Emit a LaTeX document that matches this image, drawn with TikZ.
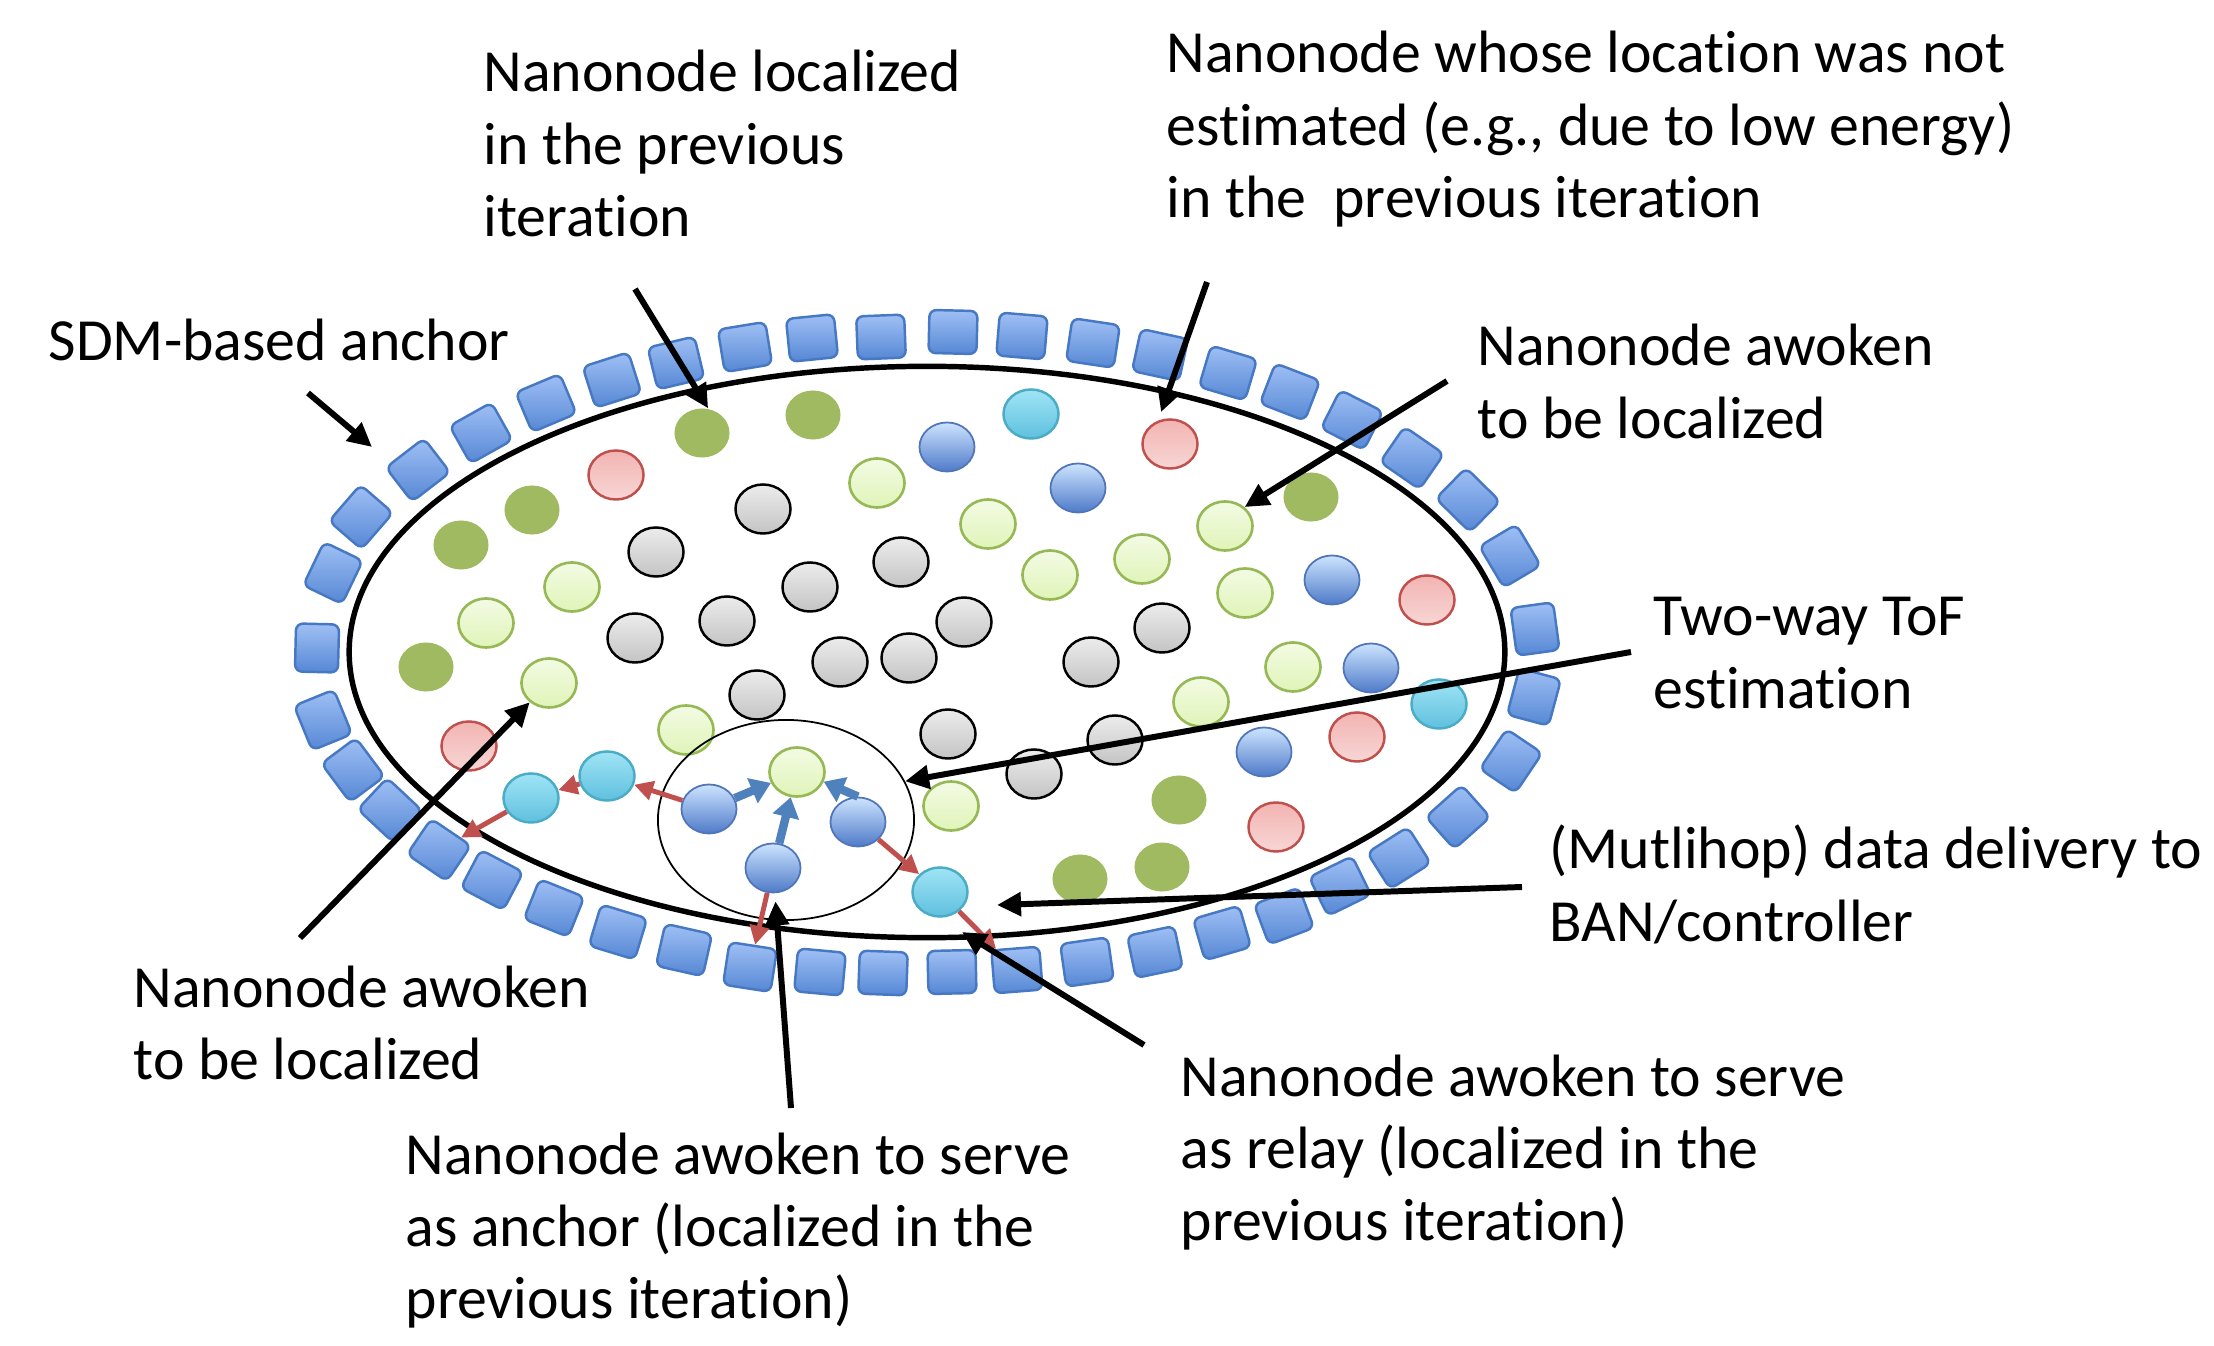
\documentclass[tikz,border=0pt]{standalone}
\usepackage{fontspec}
\setmainfont{Carlito}[Ligatures=NoCommon]
\usetikzlibrary{shapes.geometric,arrows.meta}
\definecolor{dgc}{RGB}{160,186,98}
\definecolor{lgt}{RGB}{243,251,228}
\definecolor{lgbot}{RGB}{224,244,184}
\definecolor{lgb}{RGB}{150,185,85}
\definecolor{pkt}{RGB}{242,180,178}
\definecolor{pkbot}{RGB}{247,214,213}
\definecolor{pkb}{RGB}{192,80,77}
\definecolor{gyt}{RGB}{236,236,236}
\definecolor{gybot}{RGB}{196,196,196}
\definecolor{cyt}{RGB}{160,228,246}
\definecolor{cybot}{RGB}{95,192,222}
\definecolor{cyb}{RGB}{75,172,198}
\definecolor{blt}{RGB}{205,228,255}
\definecolor{blm}{RGB}{128,172,240}
\definecolor{blbot}{RGB}{78,122,200}
\definecolor{blb}{RGB}{80,118,185}
\definecolor{sqt}{RGB}{160,192,245}
\definecolor{sqbot}{RGB}{85,135,212}
\definecolor{sqb}{RGB}{70,120,195}
\definecolor{arrblue}{RGB}{79,129,189}
\definecolor{arrred}{RGB}{192,80,77}
\begin{document}
\begin{tikzpicture}[x=0.01cm,y=-0.01cm,
  nn/.style={ellipse, minimum width=0.55cm, minimum height=0.49cm, inner sep=0pt},
  dgreen/.style={nn, fill=dgc},
  lgreen/.style={nn, draw=lgb, line width=0.75pt, top color=lgt, bottom color=lgbot},
  pinknode/.style={nn, draw=pkb, line width=0.7pt, top color=pkt, bottom color=pkbot},
  greynode/.style={nn, draw=black, line width=0.7pt, top color=gyt, bottom color=gybot},
  cyannode/.style={nn, draw=cyb, line width=0.7pt, top color=cyt, bottom color=cybot},
  bluesph/.style={nn, draw=blb, line width=0.5pt, top color=blt, middle color=blm, bottom color=blbot},
  anchorsq/.style={rectangle, rounded corners=0.07cm, minimum width=0.48cm, minimum height=0.43cm, inner sep=0pt, draw=sqb, line width=0.7pt, top color=sqt, bottom color=sqbot},
  blkarr/.style={line width=1.7pt, -{Triangle[length=0.24cm,width=0.23cm]}},
  bluearr/.style={draw=arrblue, line width=2.4pt, -{Triangle[length=0.2cm,width=0.26cm]}},
  redarr/.style={draw=arrred, line width=1.4pt, -{Triangle[length=0.19cm,width=0.19cm]}},
  lbl/.style={anchor=base west, inner sep=0pt, font=\fontsize{17}{20.5}\selectfont}
]
\fill[white] (0,0) rectangle (2214,1346);
\useasboundingbox (0,0) rectangle (2214,1346);

% anchor squares
\foreach \x/\y [count=\i] in {317/648, 333/573, 361/517, 418/470, 481/433, 546/403, 612/380, 676/363, 745/347, 812/338, 881/337, 953/332, 1022/336, 1093/343, 1160/355, 1228/373, 1290/392, 1352/420, 1412/458, 1468/500, 1510/556, 1535/629, 1534/697, 1511/761, 1458/817, 1399/858, 1340/886, 1284/916, 1222/933, 1155/952, 1087/962, 1017/970, 952/972, 883/973, 820/972, 750/967, 684/950, 618/932, 554/908, 492/880, 439/850, 390/810, 353/770, 323/720}{
  \pgfmathsetmacro\nang{atan2(-(\y-652)/10.24,(\x-926)/37.09)}
  \pgfmathsetmacro\rot{\nang<0 ? \nang+90 : \nang-90}
  \node[anchorsq, rotate=\rot] (s\i) at (\x,\y) {};
}

% region
\node[ellipse, draw, line width=1.55pt, minimum width=11.55cm, minimum height=5.71cm, inner sep=0pt] (region) at (927,652) {};

% nanonodes
\foreach \n/\x/\y in {dg1/702/433, dg2/813/415, dg3/532/510, dg4/461/545, dg5/426/667, dg6/1311/497, dg7/1179/800, dg8/1162/867, dg9/1080/879}
  \node[dgreen] (\n) at (\x,\y) {};
\foreach \n/\x/\y in {pk1/616/475, pk2/1170/444, pk3/1427/600, pk4/469/746, pk5/1357/737, pk6/1276/827}
  \node[pinknode] (\n) at (\x,\y) {};
\foreach \n/\x/\y in {gy1/763/509, gy2/656/552, gy3/810/587, gy4/635/638, gy5/727/621, gy6/757/695, gy7/901/562, gy8/964/622, gy9/840/662, gy10/909/658, gy11/1091/662, gy12/1162/628, gy13/948/734, gy14/1115/740, gy15/1034/774}
  \node[greynode] (\n) at (\x,\y) {};
\foreach \n/\x/\y in {lg1/572/587, lg2/486/623, lg3/549/683, lg4/686/730, lg5/877/483, lg6/988/524, lg7/1225/526, lg8/1050/575, lg9/1142/559, lg10/1245/593, lg11/1293/667, lg12/1201/702, lg13/951/806, lgT/797/772}
  \node[lgreen] (\n) at (\x,\y) {};
\foreach \n/\x/\y in {bl1/947/447, bl2/1078/488, bl3/1332/580, bl4/1371/668, bl5/1264/752, blL/709/809, blB/773/868, blR/858/822}
  \node[bluesph] (\n) at (\x,\y) {};
\foreach \n/\x/\y in {cy1/1031/414, cy2/1439/704, cyA/607/776, cyB/531/798, cyC/940/892}
  \node[cyannode] (\n) at (\x,\y) {};

% two-way ToF neighbourhood
\node[ellipse, draw, line width=0.5pt, minimum width=2.56cm, minimum height=2.0cm, inner sep=0pt] (tof) at (786,820) {};

% ToF arrows
\draw[bluearr] (blL) -- (lgT);
\draw[bluearr] (blB) -- (lgT);
\draw[bluearr] (blR.north) -- (lgT.-20);
% relay arrows
\draw[redarr] (blL) -- (cyA);
\draw[redarr] (cyA) -- (cyB);
\draw[redarr] (cyB) -- (s41);
\draw[redarr] (blB) -- (s36);
\draw[redarr] (blR) -- (cyC);
\draw[redarr] (cyC) -- (s32);

% labels
\node[lbl] (tloc) at (483,92) {\begin{tabular}[t]{@{}l@{}}Nanonode localized\\ in the previous\\ iteration\end{tabular}};
\node[lbl] (twhose) at (1166,73) {\begin{tabular}[t]{@{}l@{}}Nanonode whose location was not\\ estimated (e.g., due to low energy)\\ in the~ previous iteration\end{tabular}};
\node[lbl] (tsdm) at (48,361) {SDM-based anchor};
\node[lbl] (tawTR) at (1477,366) {\begin{tabular}[t]{@{}l@{}}Nanonode awoken\\ to be localized\end{tabular}};
\node[lbl] (ttof) at (1653,636) {\begin{tabular}[t]{@{}l@{}}Two-way ToF\\ estimation\end{tabular}};
\node[lbl] (tdata) at (1549,869) {\begin{tabular}[t]{@{}l@{}}(Mutlihop) data delivery to\\ BAN/controller\end{tabular}};
\node[lbl] (tawBL) at (133,1007) {\begin{tabular}[t]{@{}l@{}}Nanonode awoken\\ to be localized\end{tabular}};
\node[lbl] (trelay) at (1180,1096) {\begin{tabular}[t]{@{}l@{}}Nanonode awoken to serve\\ as relay (localized in the\\ previous iteration)\end{tabular}};
\node[lbl] (tanch) at (405,1174) {\begin{tabular}[t]{@{}l@{}}Nanonode awoken to serve\\ as anchor (localized in the\\ previous iteration)\end{tabular}};

% pointers
\coordinate (p1) at (635,289);
\draw[blkarr] (p1) -- (dg1.76);
\coordinate (p2) at (1207,282);
\draw[blkarr, shorten >=0.09cm] (p2) -- (pk2.117);
\coordinate (p3) at (1447,381);
\draw[blkarr] (p3) -- (lg7.44);
\coordinate (p4) at (308,393);
\coordinate (p4t) at (372,447);
\draw[blkarr] (p4) -- (p4t);
\coordinate (p5) at (1631,652);
\draw[blkarr] (p5) -- (tof.18);
\coordinate (p6) at (1522,887);
\coordinate (p6t) at (997,905);
\draw[blkarr] (p6) -- (p6t);
\coordinate (p7) at (1144,1045);
\coordinate (p7t) at (962,932);
\draw[blkarr] (p7) -- (p7t);
\coordinate (p8) at (791,1108);
\draw[blkarr, shorten >=0.08cm] (p8) -- (blB);
\coordinate (p9) at (300,938);
\draw[blkarr] (p9) -- (lg3.-135);
\end{tikzpicture}
\end{document}
